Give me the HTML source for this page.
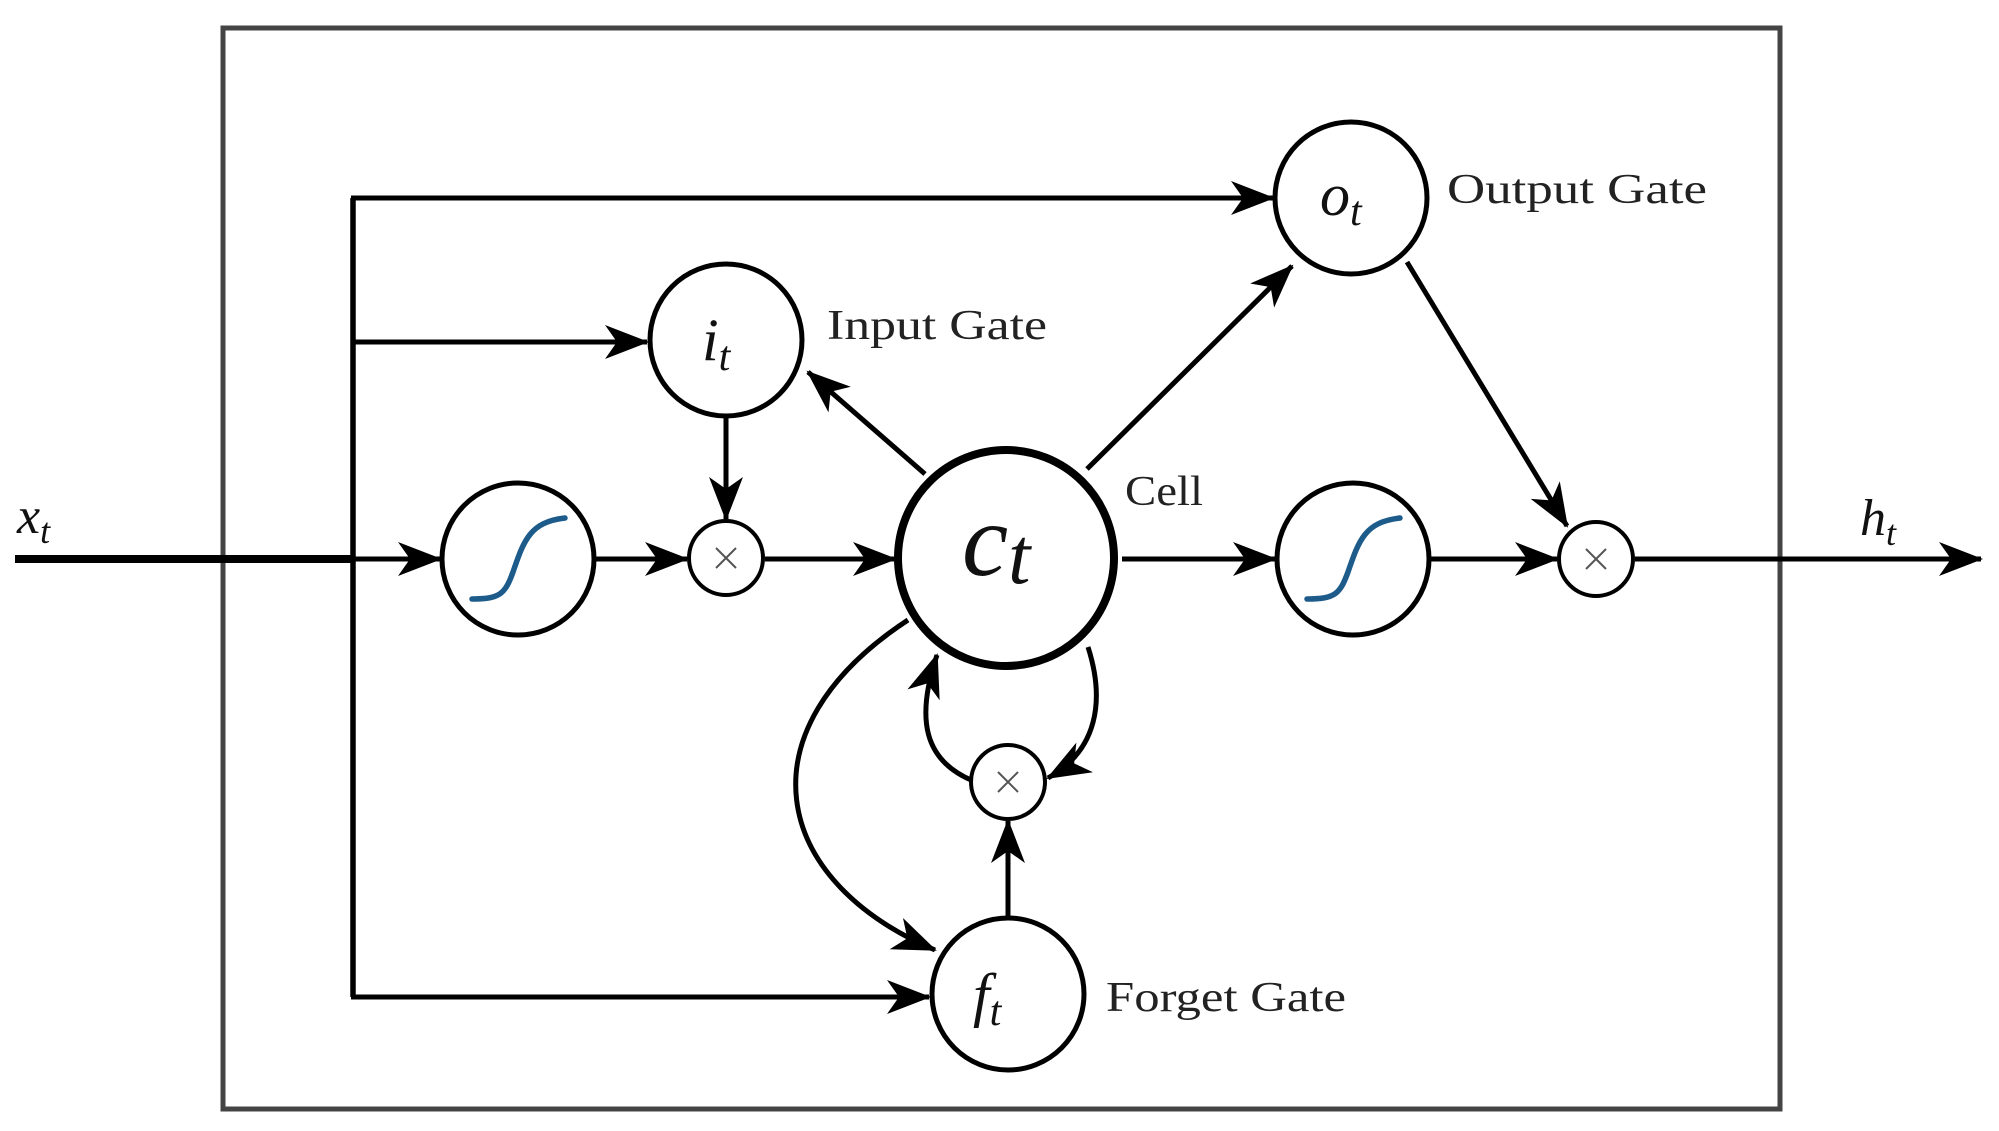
<!DOCTYPE html>
<html><head><meta charset="utf-8"><style>
html,body{margin:0;padding:0;background:#fff;}
svg{display:block;}
text{font-family:"Liberation Serif",serif;fill:#222;}
.m{font-style:italic;fill:#111;}
</style></head><body>
<svg width="1999" height="1131" viewBox="0 0 1999 1131" xmlns="http://www.w3.org/2000/svg">
<defs>
<marker id="a" markerUnits="userSpaceOnUse" viewBox="-44 -20 48 40" markerWidth="48" markerHeight="40" refX="0" refY="0" orient="auto">
<path d="M2,0 L-42,-17 L-30,0 L-42,17 Z" fill="#000"/>
</marker>
</defs>
<rect x="223" y="28" width="1557" height="1081" fill="none" stroke="#444" stroke-width="5"/>
<g fill="none" stroke="#000" stroke-width="5">
<line x1="15" y1="559" x2="355" y2="559" stroke-width="8"/>
<line x1="353" y1="198" x2="353" y2="997" stroke-width="5.5"/>
<line x1="351" y1="198" x2="1273" y2="198" marker-end="url(#a)"/>
<line x1="351" y1="342" x2="647" y2="342" marker-end="url(#a)"/>
<line x1="351" y1="997" x2="929" y2="997" marker-end="url(#a)"/>
<line x1="355" y1="559" x2="440" y2="559" marker-end="url(#a)"/>
<line x1="596" y1="559" x2="687" y2="559" marker-end="url(#a)"/>
<line x1="765" y1="559" x2="895" y2="559" marker-end="url(#a)"/>
<line x1="726" y1="418" x2="726" y2="519" marker-end="url(#a)"/>
<line x1="925" y1="474" x2="808" y2="372" marker-end="url(#a)"/>
<line x1="1087" y1="469" x2="1292" y2="266" marker-end="url(#a)"/>
<line x1="1407" y1="262" x2="1567" y2="526" marker-end="url(#a)"/>
<line x1="1122" y1="559" x2="1275" y2="559" marker-end="url(#a)"/>
<line x1="1431" y1="559" x2="1557" y2="559" marker-end="url(#a)"/>
<line x1="1635" y1="559" x2="1981" y2="559" marker-end="url(#a)"/>
<line x1="1008" y1="918" x2="1008" y2="821" marker-end="url(#a)"/>
<path d="M971,780 C925,760 915,720 937,655" marker-end="url(#a)"/>
<path d="M1088,647 C1105,700 1098,750 1048,778" marker-end="url(#a)"/>
<path d="M908,620 C740,730 770,880 935,950" marker-end="url(#a)"/>
</g>
<g fill="#fff" stroke="#000" stroke-width="5">
<circle cx="1351" cy="198" r="76"/>
<circle cx="726" cy="340" r="76"/>
<circle cx="518" cy="559" r="76"/>
<circle cx="1353" cy="559" r="76"/>
<circle cx="1008" cy="994" r="76"/>
<circle cx="726" cy="558" r="37" stroke-width="4"/>
<circle cx="1596" cy="559" r="37" stroke-width="4"/>
<circle cx="1008" cy="782" r="37" stroke-width="4"/>
<circle cx="1006" cy="558" r="108" stroke-width="8"/>
</g>
<g fill="none" stroke="#1d5b8a" stroke-width="5.5" stroke-linecap="round">
<path d="M472,599 C500,599 505,594 513,572 C524,540 530,522 565,518"/>
<path d="M1307,599 C1335,599 1340,594 1348,572 C1359,540 1365,522 1400,518"/>
</g>
<g stroke="#555" stroke-width="2">
<path d="M716,548 L736,568 M736,548 L716,568"/>
<path d="M1586,549 L1606,569 M1606,549 L1586,569"/>
<path d="M998,772 L1018,792 M1018,772 L998,792"/>
</g>
<text class="m" x="17" y="533" font-size="52">x<tspan font-size="36" dy="10">t</tspan></text>
<text class="m" x="1860" y="535" font-size="52">h<tspan font-size="36" dy="10">t</tspan></text>
<text class="m" x="702" y="360" font-size="60">i<tspan font-size="42" dy="10">t</tspan></text>
<text class="m" x="1320" y="215" font-size="60">o<tspan font-size="42" dy="10">t</tspan></text>
<text class="m" x="973" y="1015" font-size="60">f<tspan font-size="42" dy="10">t</tspan></text>
<text class="m" x="962" y="575" font-size="104">c<tspan font-size="80" dy="8">t</tspan></text>
<text x="827" y="339" font-size="42" textLength="220" lengthAdjust="spacingAndGlyphs">Input Gate</text>
<text x="1447" y="203" font-size="42" textLength="260" lengthAdjust="spacingAndGlyphs">Output Gate</text>
<text x="1125" y="505" font-size="42" textLength="78" lengthAdjust="spacingAndGlyphs">Cell</text>
<text x="1106" y="1011" font-size="42" textLength="240" lengthAdjust="spacingAndGlyphs">Forget Gate</text>
</svg>
</body></html>
